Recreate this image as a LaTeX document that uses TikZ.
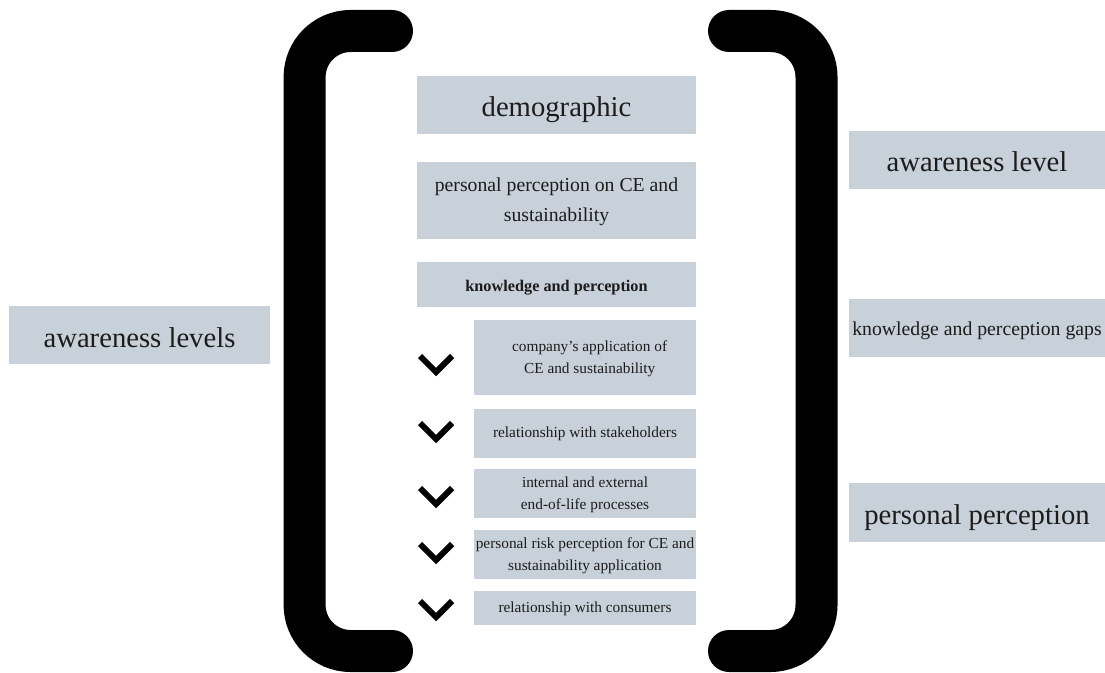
\documentclass[tikz,border=0pt]{standalone}
\usepackage{fontspec}
\setmainfont{Liberation Serif}
\definecolor{boxgrey}{RGB}{200,208,217}
\definecolor{txtgrey}{RGB}{28,28,28}

\begin{document}
\begin{tikzpicture}[x=0.75pt,y=0.75pt,yscale=-1,xscale=1,
	greybox/.style={fill=boxgrey,text=txtgrey,inner sep=0pt,align=center,anchor=center},
	bigtxt/.style={font=\fontsize{21.5}{26}\selectfont,text height=20pt,text depth=2pt},
	midone/.style={font=\fontsize{14.8}{22.5}\selectfont,text height=13pt,text depth=2.5pt},
	midtwo/.style={font=\fontsize{14.8}{22.5}\selectfont,text height=34pt,text depth=1.75pt},
	smallone/.style={font=\fontsize{11.5}{16.5}\selectfont,text height=8.5pt,text depth=2.5pt},
	smalltwo/.style={font=\fontsize{11.5}{16.5}\selectfont,text height=26.5pt,text depth=2pt},
	bracket/.style={line width=31.5pt,line cap=round,rounded corners=34.5pt},
	chev/.style={line width=4.5pt,line cap=butt,line join=miter}]
				\path[use as bounding box] (0,0) rectangle (1105,673); %set diagram size 1105 x 673

				%Shape: Left bracket
				\draw [bracket] (392,31) -- (304.6,31) -- (304.6,651) -- (392,651) ;
				%Shape: Right bracket
				\draw [bracket] (729,31) -- (816.5,31) -- (816.5,651) -- (729,651) ;

				% Text Node
				\node [greybox,bigtxt,minimum width=209.25pt,minimum height=43.5pt] (demo) at (556.5,105) {demographic};
				% Text Node
				\node [greybox,midtwo,minimum width=209.25pt,minimum height=57.75pt] (perc) at (556.5,200.5) {personal perception on CE and\\sustainability};
				% Text Node
				\node [greybox,font=\fontsize{12.2}{15}\selectfont\bfseries,text height=12pt,text depth=2.2pt,minimum width=209.25pt,minimum height=33.75pt] (know) at (556.5,284.5) {knowledge and perception};
				% Text Node
				\node [greybox,smalltwo,minimum width=166.5pt,minimum height=56.25pt] (comp) at (585,357.5) {\hspace*{7pt}company's application of\\\hspace*{7pt}CE and sustainability};
				% Text Node
				\node [greybox,smallone,minimum width=166.5pt,minimum height=36.75pt] (stake) at (585,433.5) {relationship with stakeholders};
				% Text Node
				\node [greybox,smalltwo,minimum width=166.5pt,minimum height=36.75pt] (eol) at (585,493.5) {internal and external\\end-of-life processes};
				% Text Node
				\node [greybox,smalltwo,minimum width=166.5pt,minimum height=36.75pt] (risk) at (585,554.5) {personal risk perception for CE and\\sustainability application};
				% Text Node
				\node [greybox,smallone,minimum width=166.5pt,minimum height=25.5pt] (cons) at (585,608) {relationship with consumers};

				%Shape: Chevrons
				\draw [chev] (420,356) -- (436,372) -- (452,356) ;
				\draw [chev] (420,423) -- (436,439) -- (452,423) ;
				\draw [chev] (420,488) -- (436,504) -- (452,488) ;
				\draw [chev] (420,544) -- (436,560) -- (452,544) ;
				\draw [chev] (420,601) -- (436,617) -- (452,601) ;

				% Text Node
				\node [greybox,bigtxt,minimum width=195.75pt,minimum height=43.5pt] (awlevels) at (139.5,335) {awareness levels};
				% Text Node
				\node [greybox,bigtxt,minimum width=192pt,minimum height=43.5pt] (awlevel) at (977,160) {awareness level};
				% Text Node
				\node [greybox,midone,minimum width=192pt,minimum height=43.5pt] (gaps) at (977,328) {knowledge and perception gaps};
				% Text Node
				\node [greybox,bigtxt,minimum width=192pt,minimum height=44.25pt] (persperc) at (977,512.5) {personal perception};

\end{tikzpicture}
\end{document}
